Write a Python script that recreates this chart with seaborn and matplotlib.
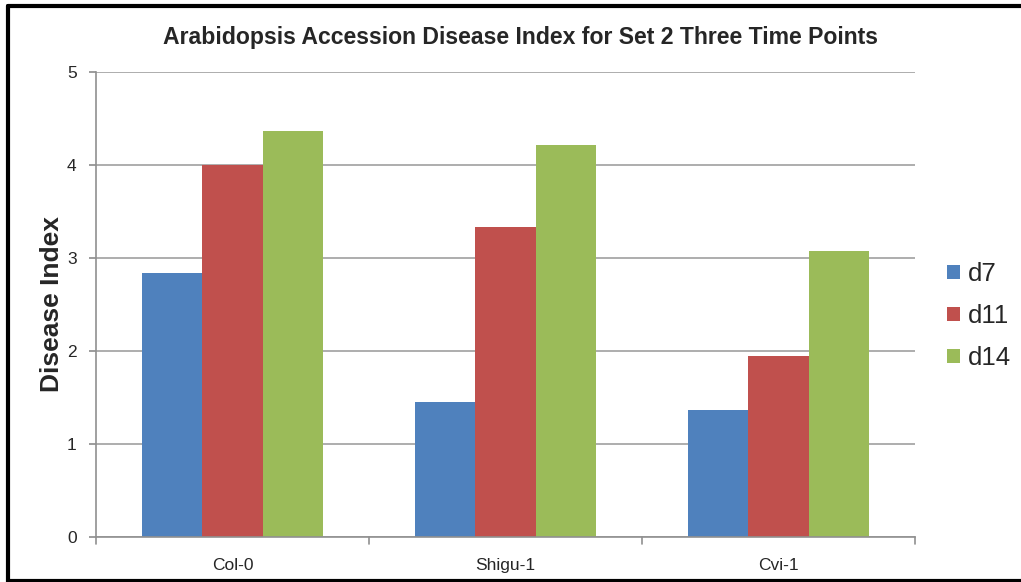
import matplotlib
matplotlib.use("Agg")
import matplotlib.pyplot as plt
import seaborn as sns
import pandas as pd
from matplotlib.lines import Line2D

accessions = ["Col-0", "Shigu-1", "Cvi-1"]
timepoints = ["d7", "d11", "d14"]
d7 = [2.84, 1.45, 1.37]
d11 = [4.00, 3.33, 1.95]
d14 = [4.37, 4.21, 3.08]
colors = ["#4F81BD", "#C0504D", "#9BBB59"]

rows = []
for tp, vals in zip(timepoints, [d7, d11, d14]):
    for acc, v in zip(accessions, vals):
        rows.append({"Accession": acc, "Time": tp, "Value": v})
df = pd.DataFrame(rows)

sns.set_theme(style="white")
plt.rcParams['font.family'] = ['Liberation Sans', 'DejaVu Sans']

fig = plt.figure(figsize=(10.21, 5.82), dpi=100)
ax = fig.add_axes([96/1021, 45/582, (915-96)/1021, (537-72)/582])

sns.barplot(data=df, x="Accession", y="Value", hue="Time", order=accessions,
            hue_order=timepoints, palette=colors, width=0.663, gap=0,
            saturation=1, ax=ax, errorbar=None, linewidth=0)

ax.set_ylim(0, 5)
ax.set_xlim(-0.5, 2.5)
ax.set_yticks([0, 1, 2, 3, 4, 5])
ax.yaxis.grid(True, color="#A0A0A0", linewidth=1.2)
ax.set_axisbelow(True)
for s in ["top", "right"]:
    ax.spines[s].set_visible(False)
for s in ["left", "bottom"]:
    ax.spines[s].set_color("#909090")
    ax.spines[s].set_linewidth(1.2)
ax.tick_params(axis="y", left=True, length=5, color="#909090", labelsize=12.5, pad=9)
ax.set_xticks([0, 1, 2])
ax.set_xticklabels(accessions, fontsize=12.5)
ax.tick_params(axis="x", bottom=False, labelsize=12.5, pad=9)
# category boundary tick marks
for xb in [-0.5, 0.5, 1.5, 2.5]:
    ax.plot([xb, xb], [0, -0.08], color="#909090", lw=1.2, clip_on=False)
ax.set_xlabel("")
ax.set_ylabel("Disease Index", fontsize=19, fontweight="bold", labelpad=2)
ax.set_title("Arabidopsis Accession Disease Index for Set 2 Three Time Points",
             fontsize=16.6, fontweight="bold", pad=20, x=(520-96)/819)

ax.legend(loc="center left", bbox_to_anchor=(947/1021, 0.457),
          bbox_transform=fig.transFigure, frameon=False, borderaxespad=0, borderpad=0,
          fontsize=18.5, handlelength=0.5, handleheight=0.5, handletextpad=0.3,
          labelspacing=0.7, title=None)

# figure frame (left, top, bottom)
fig.add_artist(Line2D([8/1021, 8/1021], [0.5/582, 576.5/582], color="black", lw=3, transform=fig.transFigure))
fig.add_artist(Line2D([8/1021, 1.0], [576.5/582, 576.5/582], color="black", lw=3, transform=fig.transFigure))
fig.add_artist(Line2D([8/1021, 1.0], [1/582, 1/582], color="black", lw=3, transform=fig.transFigure))

fig.savefig("out.png", dpi=100)
